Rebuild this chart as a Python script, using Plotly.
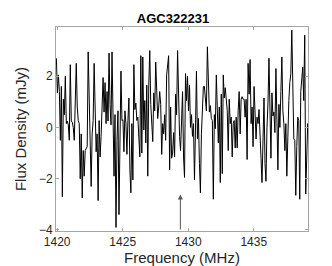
import plotly.graph_objects as go

# spectrum channels (uniform grid)
FREQ_START = 1419.94   # MHz, first channel
FREQ_STEP = 0.0758     # MHz per channel

flux_a = [2.7, 1.35, 2.05, 1.4, -0.5, 1.6, -2.7, 1.1, 0.5, 2.0,
          0.15, 0.25, 0.1, -0.5, 2.45, 0.25, 0.2, 0.0, -0.5, 0.6,
          2.5, 0.8, 0.27, 0.15, -2.0, -0.25, -2.75, -0.9, -1.9, -0.9,
          -0.8, -0.75, 2.95, 0.65, -0.75, -2.3, -0.25, 0.27, 2.5, 0.0,
          -0.95, -0.25, -2.85, 0.27, -1.15, -0.35, 0.8, 1.95, 0.6, 1.75,
          0.15, 1.4, 0.25, 2.9, 0.9, 0.1, 2.95, -0.5, -1.9, 0.5,
          -3.9, -0.5, 0.65, -3.4, 0.6, 2.2, 0.27, 0.3, -0.95, 0.65,
          0.15, -1.05, 0.27, 1.15, -1.65, -2.55, 0.15, -2.05, 2.45, 0.7,
          0.95, 0.27, 0.4, -0.5]
flux_b = [-1.15, 2.8, -1.0, 2.75, -0.1, 1.05, -0.6, 1.65, -1.9, 1.65,
          3.0, 0.9, 0.15, -0.55, 1.35, 0.65, 2.55, 1.05, 0.35, 0.8,
          1.4, 0.9, -1.05, 0.15, -0.25, 0.5, -0.5, 2.05, 2.45, 2.8,
          -1.65, 0.8, -1.2, -1.0, -0.2, -1.15, 1.3, 0.5, 3.0, 0.8,
          -0.35, -0.9, 0.65, 1.4, -1.15, -1.95, 2.1, 1.05, 2.0, 0.65,
          1.65, 0.0, 0.5, -0.35, 0.15, -2.05, -0.1, 2.2, -0.45, 0.35,
          -1.4, -2.55, -0.25, 0.8, 1.6, 1.6, 0.95, 0.65, 3.15, 1.4,
          0.6, 0.85, 0.35, 0.27, -2.8, 0.5, -0.05, 2.05, 0.15, -0.6,
          0.8, -2.15, 1.3, -1.8, 2.05, 1.15]
flux_c = [1.55, 1.05, 0.65, -0.9, 1.1, 0.15, 0.4, -1.15, 0.15, 0.27,
          -0.8, 0.4, -0.8, 0.65, 1.4, -0.25, 1.1, 1.2, 1.1, 1.1,
          0.4, 1.1, -1.25, 2.5, 1.3, 2.65, 0.15, 0.8, -0.75, 1.6,
          0.15, -0.45, 0.4, 0.15, 0.7, 0.0, -1.2, -2.15, -0.75, 1.15,
          -1.4, -2.1, 0.0, 0.95, 2.7, 0.15, -1.2, 1.35, 0.45, 0.6,
          -0.2, 2.3, -0.3, -1.65, 0.9, 0.0, 1.4, 2.75, 0.65, 0.15,
          -0.9, 0.15, -1.9, 0.15, 1.05, 1.75, 2.1, 3.8, 1.3, -0.45,
          -0.5, -2.65, -0.75, 0.4, 0.27, -2.8, 1.4, 2.05, 2.35, 1.05,
          3.6, -2.6, -0.5, 0.15, -0.7]
flux = flux_a + flux_b + flux_c

x_ticks = [1420, 1425, 1430, 1435]
y_ticks = [-4, -2, 0, 2]

# marker arrow for the expected frequency
arrow_freq = 1429.4
arrow_tip = -2.62

FONT = "Liberation Sans"
AXIS_GREY = "#a6a6a6"
TEXT = "#262626"

fig = go.Figure(go.Scatter(
    x0=FREQ_START, dx=FREQ_STEP, y=flux,
    mode="lines", line=dict(color="black", width=1),
    showlegend=False,
))

fig.add_annotation(
    x=arrow_freq, y=arrow_tip, ax=arrow_freq, ay=-4.04,
    xref="x", yref="y", axref="x", ayref="y",
    text="", showarrow=True, arrowhead=2, arrowsize=1,
    arrowwidth=1, arrowcolor="#555555",
)

axis_common = dict(
    showline=True, linecolor=AXIS_GREY, linewidth=1, mirror="ticks",
    ticks="inside", ticklen=3, tickcolor=AXIS_GREY,
    showgrid=False, zeroline=False,
    tickfont=dict(family=FONT, size=12, color=TEXT),
)

fig.update_layout(
    width=332, height=266,
    margin=dict(l=43, r=32, t=19, b=38),
    plot_bgcolor="white", paper_bgcolor="white",
    title=dict(text="<b>AGC322231</b>", x=0.497, xref="container",
               y=0.962, yref="container", xanchor="center", yanchor="middle",
               font=dict(family=FONT, size=13, color="black")),
    xaxis=dict(range=[1419.91, 1439.14], tickvals=x_ticks,
               title=dict(text="Frequency (MHz)", standoff=2,
                          font=dict(family=FONT, size=15, color=TEXT)),
               **axis_common),
    yaxis=dict(range=[-4.04, 3.92], tickvals=y_ticks,
               title=dict(text="Flux Density (mJy)", standoff=8,
                          font=dict(family=FONT, size=15, color=TEXT)),
               **axis_common),
)

fig.write_html("out.html")
